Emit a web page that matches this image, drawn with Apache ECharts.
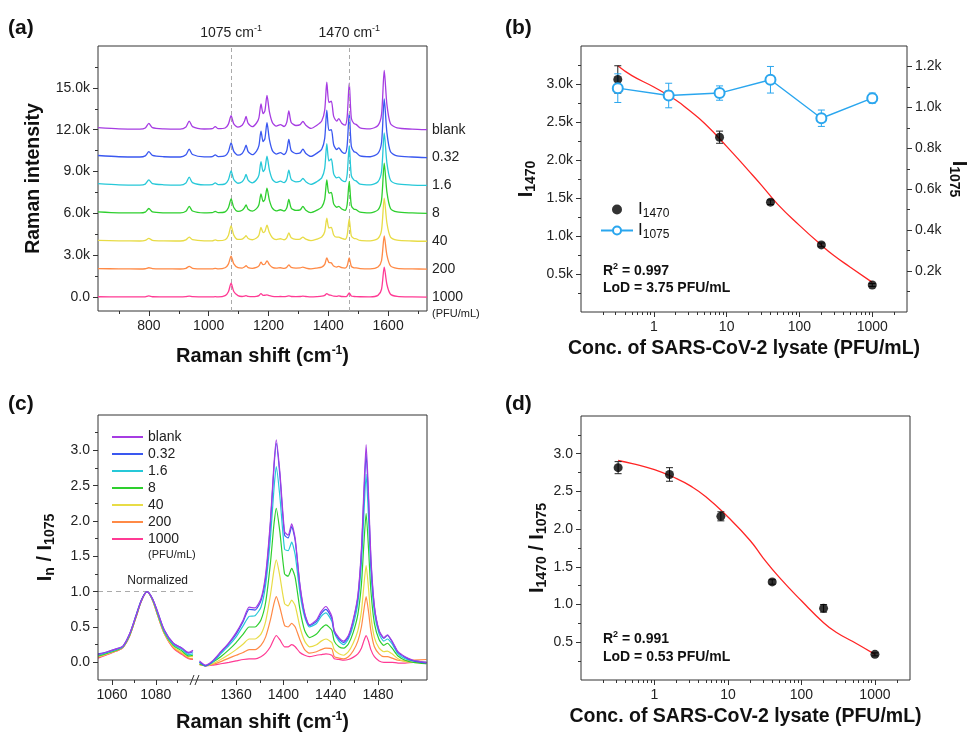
<!DOCTYPE html>
<html>
<head>
<meta charset="utf-8">
<script src="https://cdn.jsdelivr.net/npm/echarts@6/dist/echarts.min.js"></script>
<style>
  html, body { margin: 0; padding: 0; background: #fff; }
  #chart { width: 970px; height: 733px; }
</style>
</head>
<body>
<div id="chart"></div>
<script>
  const FONT = 'Arial, "Liberation Sans", sans-serif';

  // sample names + colours (same in a, c)
  const samples = ['blank', '0.32', '1.6', '8', '40', '200', '1000'];
  const lineColors = ['#a63ce2', '#3a58f0', '#26c8d8', '#2ecf2e', '#e8dc46', '#ff8a46', '#ff3a94'];
  // vertical stacking used in (a)
  const offsetsA = [12000, 10000, 8000, 6000, 4000, 2000, 0];

  // ---- (a) Raman spectra, intensity above each baseline ----
  const shiftA = [630, 700, 770, 788, 800, 812, 850, 905, 924, 935, 946, 985, 1012, 1022, 1032,
    1055, 1066, 1075, 1084, 1098, 1112, 1120, 1125, 1132, 1146, 1160, 1168, 1175, 1182, 1188,
    1195, 1203, 1213, 1226, 1240, 1252, 1261, 1268, 1276, 1292, 1306, 1315, 1325, 1342, 1362,
    1378, 1388, 1395, 1402, 1410, 1418, 1428, 1435, 1445, 1456, 1463, 1470, 1477, 1486, 1493,
    1506, 1540, 1566, 1578, 1587, 1596, 1608, 1630, 1680, 1730];
  const aBlank = [150, 60, 40, 120, 450, 150, 60, 40, 200, 620, 220, 50, 70, 220, 70,
    120, 400, 1000, 420, 180, 320, 620, 950, 450, 220, 480, 850, 1850, 1150, 1350,
    2450, 1300, 520, 260, 360, 230, 520, 1350, 520, 300, 360, 600, 320, 90, 320,
    620, 1400, 3400, 1950, 2050, 950, 620, 800, 460, 320, 900, 3350, 820, 430, 380,
    130, 60, 300, 1100, 4250, 1800, 420, 130, 40, 0];
  const a032 = [150, 60, 40, 120, 420, 150, 60, 40, 200, 600, 220, 50, 70, 200, 70,
    130, 420, 1060, 440, 180, 300, 600, 900, 430, 210, 470, 850, 1900, 1150, 1350,
    2500, 1300, 500, 250, 350, 220, 500, 1300, 500, 290, 340, 600, 300, 90, 320,
    600, 1380, 3400, 1950, 2000, 920, 580, 700, 420, 300, 860, 3200, 800, 420, 370,
    120, 60, 300, 1080, 4200, 1780, 410, 120, 40, 0];
  const a16 = [130, 50, 30, 100, 400, 130, 50, 30, 180, 600, 200, 40, 60, 180, 60,
    120, 410, 1050, 430, 160, 270, 520, 800, 380, 190, 410, 740, 1700, 1000, 1180,
    2100, 1120, 440, 220, 310, 200, 440, 1100, 440, 260, 300, 500, 270, 80, 280,
    540, 1220, 3000, 1750, 1900, 830, 540, 600, 380, 270, 780, 2850, 700, 380, 330,
    100, 50, 270, 1000, 3770, 1600, 370, 110, 30, 0];
  const a8 = [110, 40, 30, 90, 350, 110, 40, 30, 150, 500, 170, 40, 50, 150, 50,
    110, 400, 1030, 420, 140, 220, 420, 600, 300, 160, 340, 620, 1400, 850, 1000,
    1800, 950, 370, 180, 260, 170, 380, 1000, 380, 210, 250, 500, 230, 60, 230,
    450, 1000, 2400, 1450, 1500, 680, 440, 500, 310, 220, 630, 2300, 560, 300, 270,
    90, 40, 250, 950, 3600, 1520, 350, 100, 30, 0];
  const a40 = [70, 30, 20, 60, 200, 70, 30, 20, 100, 300, 110, 30, 30, 100, 40,
    110, 420, 1100, 440, 130, 150, 280, 400, 200, 110, 230, 430, 1000, 620, 700,
    1150, 620, 250, 120, 180, 110, 250, 600, 250, 140, 160, 300, 150, 40, 160,
    300, 680, 1650, 950, 1000, 450, 290, 300, 200, 140, 420, 1600, 380, 200, 180,
    60, 30, 200, 800, 3100, 1300, 300, 80, 20, 0];
  const a200 = [40, 20, 10, 30, 100, 40, 20, 10, 60, 200, 60, 20, 20, 60, 20,
    100, 360, 940, 380, 110, 80, 160, 250, 110, 60, 120, 230, 500, 320, 360,
    600, 330, 130, 70, 100, 60, 130, 300, 130, 80, 90, 150, 80, 20, 80,
    150, 340, 800, 480, 450, 220, 150, 200, 110, 80, 220, 800, 200, 100, 90,
    40, 20, 150, 620, 2380, 1000, 230, 60, 20, 0];
  const a1000 = [20, 10, 10, 20, 80, 20, 10, 10, 30, 60, 30, 10, 10, 30, 10,
    100, 380, 1000, 400, 100, 40, 70, 100, 50, 30, 50, 100, 250, 120, 130,
    150, 100, 50, 30, 40, 30, 50, 80, 40, 30, 40, 60, 40, 10, 30,
    60, 120, 250, 150, 120, 60, 50, 80, 40, 30, 80, 300, 70, 40, 30,
    20, 10, 120, 560, 2150, 900, 200, 50, 10, 0];
  const spectraA = [aBlank, a032, a16, a8, a40, a200, a1000];
  const markedShifts = [1075, 1470];

  // ---- (c) normalised spectra, left part (around 1075) ----
  const shiftCL = [1053.6, 1058, 1062, 1065, 1068, 1071, 1073.5, 1076, 1078.5, 1081, 1084, 1088, 1092, 1095, 1097];
  const clBlank = [0.11, 0.15, 0.19, 0.23, 0.40, 0.66, 0.88, 1.0, 0.90, 0.70, 0.45, 0.27, 0.20, 0.14, 0.17];
  const cl032 = [0.12, 0.15, 0.19, 0.23, 0.40, 0.67, 0.89, 1.0, 0.90, 0.70, 0.45, 0.27, 0.20, 0.13, 0.15];
  const cl16 = [0.10, 0.14, 0.18, 0.22, 0.39, 0.66, 0.88, 1.0, 0.89, 0.68, 0.43, 0.25, 0.18, 0.11, 0.12];
  const cl8 = [0.09, 0.13, 0.17, 0.22, 0.38, 0.65, 0.88, 1.0, 0.89, 0.67, 0.42, 0.24, 0.16, 0.09, 0.10];
  const cl40 = [0.08, 0.12, 0.17, 0.22, 0.38, 0.65, 0.88, 1.0, 0.88, 0.66, 0.41, 0.22, 0.14, 0.08, 0.08];
  const cl200 = [0.07, 0.12, 0.16, 0.21, 0.37, 0.64, 0.87, 1.0, 0.88, 0.65, 0.40, 0.21, 0.12, 0.06, 0.05];
  const cl1000 = [0.06, 0.11, 0.16, 0.21, 0.37, 0.64, 0.87, 1.0, 0.88, 0.65, 0.40, 0.20, 0.11, 0.05, 0.04];
  const spectraCL = [clBlank, cl032, cl16, cl8, cl40, cl200, cl1000];

  // ---- (c) right part (1330-1520) ----
  const shiftCR = [1329, 1334, 1340, 1347, 1354, 1360, 1366, 1371, 1376, 1381, 1385, 1389, 1392, 1394, 1397,
    1401, 1404, 1407, 1410, 1414, 1418, 1422, 1428, 1432, 1436, 1441, 1443, 1447, 1451, 1455,
    1459, 1463, 1466, 1468, 1470, 1472, 1474, 1477, 1481, 1485, 1488, 1492, 1497, 1503, 1510, 1521];
  const crBlank = [0.02, -0.04, 0.02, 0.15, 0.28, 0.42, 0.60, 0.78, 0.77, 0.90, 1.25, 2.0, 2.8, 3.15, 2.7,
    1.85, 1.80, 1.96, 1.75, 1.10, 0.70, 0.53, 0.60, 0.72, 0.79, 0.65, 0.45, 0.35, 0.30, 0.38,
    0.60, 0.95, 1.6, 2.4, 3.08, 2.4, 1.5, 0.80, 0.45, 0.35, 0.39, 0.30, 0.15, 0.08, 0.03, 0.0];
  const cr032 = [0.0, -0.05, 0.01, 0.14, 0.27, 0.40, 0.58, 0.75, 0.74, 0.87, 1.2, 1.95, 2.75, 3.1, 2.65,
    1.80, 1.76, 1.92, 1.72, 1.08, 0.68, 0.52, 0.58, 0.69, 0.75, 0.62, 0.44, 0.33, 0.28, 0.36,
    0.58, 0.92, 1.55, 2.3, 2.95, 2.3, 1.45, 0.78, 0.44, 0.34, 0.38, 0.29, 0.14, 0.07, 0.02, -0.01];
  const cr16 = [0.0, -0.05, 0.0, 0.12, 0.24, 0.36, 0.52, 0.65, 0.66, 0.78, 1.1, 1.75, 2.45, 2.77, 2.35,
    1.60, 1.58, 1.70, 1.52, 0.98, 0.64, 0.50, 0.55, 0.65, 0.70, 0.58, 0.42, 0.30, 0.25, 0.33,
    0.52, 0.84, 1.4, 2.05, 2.66, 2.05, 1.3, 0.70, 0.40, 0.30, 0.33, 0.26, 0.12, 0.05, 0.02, 0.0];
  const cr8 = [-0.02, -0.05, 0.0, 0.08, 0.18, 0.28, 0.40, 0.50, 0.50, 0.60, 0.85, 1.4, 1.95, 2.18, 1.85,
    1.25, 1.22, 1.33, 1.20, 0.75, 0.45, 0.35, 0.40, 0.48, 0.53, 0.45, 0.30, 0.22, 0.20, 0.26,
    0.42, 0.68, 1.1, 1.65, 2.11, 1.62, 1.02, 0.55, 0.32, 0.24, 0.27, 0.20, 0.09, 0.03, 0.0, -0.02];
  const cr40 = [-0.03, -0.05, -0.02, 0.04, 0.11, 0.18, 0.26, 0.33, 0.33, 0.40, 0.58, 0.95, 1.3, 1.45, 1.22,
    0.83, 0.80, 0.88, 0.80, 0.50, 0.30, 0.22, 0.25, 0.30, 0.33, 0.28, 0.18, 0.12, 0.10, 0.15,
    0.27, 0.45, 0.72, 1.07, 1.37, 1.05, 0.66, 0.35, 0.20, 0.15, 0.16, 0.12, 0.05, 0.01, 0.0, -0.02];
  const cr200 = [-0.03, -0.05, -0.03, 0.01, 0.06, 0.10, 0.14, 0.18, 0.18, 0.24, 0.36, 0.60, 0.83, 0.93, 0.78,
    0.52, 0.50, 0.55, 0.50, 0.32, 0.18, 0.13, 0.15, 0.18, 0.20, 0.19, 0.08, 0.06, 0.05, 0.08,
    0.16, 0.30, 0.50, 0.73, 0.93, 0.72, 0.45, 0.22, 0.12, 0.08, 0.08, 0.06, 0.03, 0.02, 0.03, 0.04];
  const cr1000 = [-0.03, -0.05, -0.04, -0.02, 0.0, 0.02, 0.04, 0.05, 0.05, 0.08, 0.13, 0.22, 0.33, 0.38, 0.32,
    0.22, 0.22, 0.25, 0.22, 0.14, 0.10, 0.08, 0.10, 0.11, 0.12, 0.10, 0.05, 0.04, 0.03, 0.04,
    0.07, 0.12, 0.20, 0.30, 0.38, 0.30, 0.18, 0.08, 0.02, 0.0, 0.0, 0.0, -0.01, -0.01, 0.0, 0.0];
  const spectraCR = [crBlank, cr032, cr16, cr8, cr40, cr200, cr1000];

  // ---- (b) / (d) calibration ----
  const conc = [0.32, 1.6, 8, 40, 200, 1000];
  const i1470 = [3060, 2855, 2300, 1445, 883, 355];
  const i1470Err = [180, 50, 80, 30, 25, 20];
  const i1075 = [1094, 1058, 1070, 1135, 947, 1045];
  const i1075Err = [70, 60, 35, 65, 40, 25];
  const fitX = [0.32, 0.5, 1, 2, 3, 5, 10, 20, 30, 50, 100, 200, 300, 500, 1000];
  const fitB = [3240, 3110, 2960, 2790, 2660, 2480, 2180, 1860, 1670, 1420, 1140, 880, 740, 590, 390];
  const ratio = [2.815, 2.725, 2.17, 1.30, 0.95, 0.34];
  const ratioErr = [0.08, 0.09, 0.06, 0.03, 0.05, 0.02];
  const fitD = [2.91, 2.87, 2.79, 2.67, 2.58, 2.43, 2.16, 1.85, 1.62, 1.36, 1.05, 0.76, 0.63, 0.51, 0.34];

  // tick positions
  const aXLabels = [800, 1000, 1200, 1400, 1600];
  const aXMinor = [700, 900, 1100, 1300, 1500, 1700];
  const aYLabels = [0, 3000, 6000, 9000, 12000, 15000];
  const aYMinor = [1500, 4500, 7500, 10500, 13500, 16500];
  const bYLabels = [500, 1000, 1500, 2000, 2500, 3000];
  const bYMinor = [250, 750, 1250, 1750, 2250, 2750, 3250];
  const bY2Labels = [200, 400, 600, 800, 1000, 1200];
  const bY2Minor = [100, 300, 500, 700, 900, 1100];
  const clXLabels = [1060, 1080];
  const clXMinor = [1070, 1090];
  const crXLabels = [1360, 1400, 1440, 1480];
  const crXMinor = [1340, 1380, 1420, 1460, 1500];
  const cYLabels = [0, 0.5, 1.0, 1.5, 2.0, 2.5, 3.0];
  const cYMinor = [0.25, 0.75, 1.25, 1.75, 2.25, 2.75, 3.25];
  const dYLabels = [0.5, 1.0, 1.5, 2.0, 2.5, 3.0];
  const dYMinor = [0.25, 0.75, 1.25, 1.75, 2.25, 2.75, 3.25];
  const logMinor = [0.2, 0.3, 0.4, 0.5, 0.6, 0.7, 0.8, 0.9, 2, 3, 4, 5, 6, 7, 8, 9,
    20, 30, 40, 50, 60, 70, 80, 90, 200, 300, 400, 500, 600, 700, 800, 900, 2000];

  // 画布上的各个面板位置
  const GA = { left: 98, top: 46, width: 329, height: 265 };
  const GB = { left: 581, top: 46, width: 329, height: 266 };
  const GCL = { left: 98, top: 415, width: 95, height: 265 };
  const GCR = { left: 199, top: 415, width: 228, height: 265 };
  const GD = { left: 581, top: 416, width: 329, height: 264 };

  const chart = echarts.init(document.getElementById('chart'));

  const kFmt = v => v === 0 ? '0.0' : (v / 1000).toFixed(1) + 'k';
  const oneDec = v => v.toFixed(1);
  const plain = v => String(v);
  const titleStyle = { fontSize: 19.5, fontWeight: 'bold', color: '#111', fontFamily: FONT };
  const subRich = {
    i: { fontSize: 20, fontWeight: 'bold', color: '#111', fontFamily: FONT },
    s: { fontSize: 14, fontWeight: 'bold', color: '#111', fontFamily: FONT, padding: [10, 0, 0, 0] },
    n: { fontSize: 20, fontWeight: 'bold', color: '#111', fontFamily: FONT },
    p: { fontSize: 12, fontWeight: 'bold', color: '#111', fontFamily: FONT, padding: [0, 0, 10, 0] }
  };

  function mainAxis(gridIndex, position, min, max, labels, fmt, extra) {
    return Object.assign({
      gridIndex: gridIndex, position: position, type: 'value', min: min, max: max,
      axisLine: { show: false, onZero: false },
      axisTick: { show: true, inside: false, length: 5, customValues: labels, lineStyle: { color: '#333' } },
      axisLabel: { show: true, customValues: labels, formatter: fmt, fontSize: 14, color: '#222', fontFamily: FONT, margin: 8 },
      splitLine: { show: false }
    }, extra || {});
  }
  function minorAxis(gridIndex, position, min, max, ticks) {
    return {
      gridIndex: gridIndex, position: position, type: 'value', min: min, max: max,
      axisLine: { show: false, onZero: false },
      axisTick: { show: true, inside: false, length: 3, customValues: ticks, lineStyle: { color: '#333' } },
      axisLabel: { show: false },
      splitLine: { show: false }
    };
  }
  function logAxis(gridIndex, extra) {
    return Object.assign({
      gridIndex: gridIndex, position: 'bottom', type: 'log', logBase: 10, min: 0.1, max: 3000,
      axisLine: { show: false, onZero: false },
      axisTick: { show: true, inside: false, length: 5, lineStyle: { color: '#333' } },
      axisLabel: { showMinLabel: false, showMaxLabel: false, formatter: v => String(Math.round(v)),
        fontSize: 14, color: '#222', fontFamily: FONT, margin: 8 },
      splitLine: { show: false },
      name: 'Conc. of SARS-CoV-2 lysate (PFU/mL)', nameLocation: 'middle', nameGap: 27,
      nameTextStyle: { fontSize: 19.5, fontWeight: 'bold', color: '#111', fontFamily: FONT }
    }, extra || {});
  }

  function errorBars(xs, ys, es, color, xAxisIndex, yAxisIndex) {
    return {
      type: 'custom', xAxisIndex: xAxisIndex, yAxisIndex: yAxisIndex, z: 3, silent: true,
      encode: { x: 0, y: [1, 2] },
      data: xs.map((x, i) => [x, ys[i] - es[i], ys[i] + es[i]]),
      renderItem: function (params, api) {
        const lo = api.coord([api.value(0), api.value(1)]);
        const hi = api.coord([api.value(0), api.value(2)]);
        const w = 3.5;
        const st = { stroke: color, lineWidth: 1 };
        return {
          type: 'group', children: [
            { type: 'line', shape: { x1: lo[0], y1: lo[1], x2: hi[0], y2: hi[1] }, style: st },
            { type: 'line', shape: { x1: lo[0] - w, y1: lo[1], x2: lo[0] + w, y2: lo[1] }, style: st },
            { type: 'line', shape: { x1: hi[0] - w, y1: hi[1], x2: hi[0] + w, y2: hi[1] }, style: st }
          ]
        };
      }
    };
  }

  const series = [];

  // (a)
  samples.forEach((name, k) => {
    const s = {
      name: name, type: 'line', xAxisIndex: 0, yAxisIndex: 0,
      data: shiftA.map((x, i) => [x, spectraA[k][i] + offsetsA[k]]),
      symbol: 'none', smooth: 0.25, z: 3 + k,
      lineStyle: { color: lineColors[k], width: 1.3 },
      itemStyle: { color: lineColors[k] },
      endLabel: { show: true, formatter: p => p.seriesName, color: '#222', fontSize: 14, fontFamily: FONT, distance: 5 }
    };
    if (k === 0) {
      s.markLine = {
        silent: true, symbol: 'none', animation: false,
        lineStyle: { color: '#aaa', type: [4, 3], width: 1 },
        label: {
          show: true, position: 'end', distance: 4,
          formatter: p => '{t|' + p.value + ' cm}{u|-1}',
          rich: {
            t: { fontSize: 14, color: '#222', fontFamily: FONT },
            u: { fontSize: 9, color: '#222', fontFamily: FONT, padding: [0, 0, 9, 0] }
          }
        },
        data: markedShifts.map(v => ({ xAxis: v }))
      };
    }
    series.push(s);
  });

  // (c)
  samples.forEach((name, k) => {
    const left = {
      name: name, type: 'line', xAxisIndex: 4, yAxisIndex: 6,
      data: shiftCL.map((x, i) => [x, spectraCL[k][i]]),
      symbol: 'none', smooth: 0.3, z: 10 - k,
      lineStyle: { color: lineColors[k], width: 1.2 },
      itemStyle: { color: lineColors[k] }
    };
    if (k === 0) {
      left.markLine = {
        silent: true, symbol: 'none', animation: false,
        lineStyle: { color: '#aaa', type: [5, 4], width: 1 },
        label: { show: true, position: 'insideEndTop', formatter: 'Normalized', fontSize: 12, color: '#222', fontFamily: FONT },
        data: [{ yAxis: 1 }]
      };
    }
    series.push(left);
    series.push({
      name: name, type: 'line', xAxisIndex: 6, yAxisIndex: 8,
      data: shiftCR.map((x, i) => [x, spectraCR[k][i]]),
      symbol: 'none', smooth: 0.2, z: 10 - k,
      lineStyle: { color: lineColors[k], width: 1.2 },
      itemStyle: { color: lineColors[k] }
    });
  });

  // (b)
  series.push({
    type: 'line', xAxisIndex: 2, yAxisIndex: 2, silent: true, z: 2,
    data: fitX.map((x, i) => [x, fitB[i]]), smooth: true, symbol: 'none',
    lineStyle: { color: '#ff2424', width: 1.3 }
  });
  series.push(errorBars(conc, i1470, i1470Err, '#222', 2, 2));
  series.push({
    name: 'I1470', type: 'scatter', xAxisIndex: 2, yAxisIndex: 2, z: 6,
    data: conc.map((x, i) => [x, i1470[i]]), symbolSize: 9,
    itemStyle: { color: '#000' }
  });
  series.push(errorBars(conc, i1075, i1075Err, '#2aa6ee', 2, 4));
  series.push({
    name: 'I1075', type: 'line', xAxisIndex: 2, yAxisIndex: 4, z: 7,
    data: conc.map((x, i) => [x, i1075[i]]),
    symbol: 'emptyCircle', symbolSize: 10, showSymbol: true,
    lineStyle: { color: '#2aa6ee', width: 1.4 },
    itemStyle: { color: '#2aa6ee', borderWidth: 1.5 }
  });

  // (d)
  series.push({
    type: 'line', xAxisIndex: 8, yAxisIndex: 9, silent: true, z: 2,
    data: fitX.map((x, i) => [x, fitD[i]]), smooth: true, symbol: 'none',
    lineStyle: { color: '#ff2424', width: 1.3 }
  });
  series.push(errorBars(conc, ratio, ratioErr, '#222', 8, 9));
  series.push({
    type: 'scatter', xAxisIndex: 8, yAxisIndex: 9, z: 6,
    data: conc.map((x, i) => [x, ratio[i]]), symbolSize: 9,
    itemStyle: { color: '#000' }
  });

  const gridStyle = { show: true, borderColor: '#333', borderWidth: 1, backgroundColor: 'transparent' };
  const lg = Math.log10;

  const xAxes = [
    mainAxis(0, 'bottom', 630, 1730, aXLabels, plain, {
      name: '{n|Raman shift (cm}{p|-1}{n|)}', nameLocation: 'middle', nameGap: 34,
      nameTextStyle: { rich: subRich }
    }),
    minorAxis(0, 'bottom', 630, 1730, aXMinor),
    logAxis(1),
    minorAxis(1, 'bottom', -1, lg(3000), logMinor.map(v => lg(v))),
    mainAxis(2, 'bottom', 1053.6, 1097, clXLabels, plain),
    minorAxis(2, 'bottom', 1053.6, 1097, clXMinor),
    mainAxis(3, 'bottom', 1328.6, 1521.5, crXLabels, plain),
    minorAxis(3, 'bottom', 1328.6, 1521.5, crXMinor),
    logAxis(4),
    minorAxis(4, 'bottom', -1, lg(3000), logMinor.map(v => lg(v)))
  ];

  const yAxes = [
    mainAxis(0, 'left', -1000, 18000, aYLabels, kFmt, {
      name: 'Raman intensity', nameLocation: 'middle', nameGap: 54, nameTextStyle: titleStyle
    }),
    minorAxis(0, 'left', -1000, 18000, aYMinor),
    mainAxis(1, 'left', 0, 3500, bYLabels, kFmt, {
      name: '{i|I}{s|1470}', nameLocation: 'middle', nameGap: 43, nameTextStyle: { rich: subRich }
    }),
    minorAxis(1, 'left', 0, 3500, bYMinor),
    mainAxis(1, 'right', 0, 1300, bY2Labels, kFmt, {
      name: '{i|I}{s|1075}', nameLocation: 'middle', nameGap: 40, nameRotate: -90,
      nameTextStyle: { rich: subRich }
    }),
    minorAxis(1, 'right', 0, 1300, bY2Minor),
    mainAxis(2, 'left', -0.25, 3.5, cYLabels, oneDec, {
      name: '{i|I}{s|n}{i| / I}{s|1075}', nameLocation: 'middle', nameGap: 41, nameTextStyle: { rich: subRich }
    }),
    minorAxis(2, 'left', -0.25, 3.5, cYMinor),
    { gridIndex: 3, type: 'value', min: -0.25, max: 3.5, show: false },
    mainAxis(4, 'left', 0, 3.5, dYLabels, oneDec, {
      name: '{i|I}{s|1470}{i| / I}{s|1075}', nameLocation: 'middle', nameGap: 31, nameTextStyle: { rich: subRich }
    }),
    minorAxis(4, 'left', 0, 3.5, dYMinor)
  ];

  const bold14 = { fontSize: 14, fontWeight: 'bold', fill: '#111', fontFamily: FONT };
  const sup9 = { fontSize: 9, fontWeight: 'bold', fill: '#111', fontFamily: FONT, padding: [0, 0, 8, 0] };
  function panelLabel(t, x, y) {
    return { type: 'text', x: x, y: y, style: { text: t, font: 'bold 21px ' + FONT, fill: '#111', verticalAlign: 'middle' } };
  }
  function richText(t, x, y) {
    return { type: 'text', x: x, y: y, z: 20, style: { text: t, rich: { b: bold14, p: sup9 }, verticalAlign: 'middle' } };
  }
  const frameC = { x: GCL.left, y: GCL.top, w: GCR.left + GCR.width - GCL.left, h: GCL.height };
  const breakX = (GCL.left + GCL.width + GCR.left) / 2;
  const bottomC = GCL.top + GCL.height;

  const graphic = [
    panelLabel('(a)', 8, 28), panelLabel('(b)', 505, 28),
    panelLabel('(c)', 8, 404), panelLabel('(d)', 505, 404),
    { type: 'text', x: 432, y: 314, style: { text: '(PFU/mL)', font: '11px ' + FONT, fill: '#222', verticalAlign: 'middle' } },
    { type: 'text', x: 148, y: 555, style: { text: '(PFU/mL)', font: '11px ' + FONT, fill: '#222', verticalAlign: 'middle' } },
    richText('{b|R}{p|2}{b| = 0.997}', 603, 271),
    richText('{b|LoD = 3.75 PFU/mL}', 603, 288),
    richText('{b|R}{p|2}{b| = 0.991}', 603, 639),
    richText('{b|LoD = 0.53 PFU/mL}', 603, 657),
    // (c) axis title, centred under both halves of the broken axis
    { type: 'text', x: frameC.x + frameC.w / 2, y: 722,
      style: { text: '{n|Raman shift (cm}{p|-1}{n|)}', rich: {
        n: { fontSize: 20, fontWeight: 'bold', fill: '#111', fontFamily: FONT },
        p: { fontSize: 12, fontWeight: 'bold', fill: '#111', fontFamily: FONT, padding: [0, 0, 10, 0] }
      }, align: 'center', verticalAlign: 'middle' } },
    { type: 'rect', z: 30, shape: { x: frameC.x, y: frameC.y, width: frameC.w, height: frameC.h },
      style: { fill: 'none', stroke: '#333', lineWidth: 1 } },
    { type: 'line', z: 31, shape: { x1: breakX - 6, y1: bottomC + 5, x2: breakX - 2, y2: bottomC - 5 }, style: { stroke: '#333', lineWidth: 1 } },
    { type: 'line', z: 31, shape: { x1: breakX - 1, y1: bottomC + 5, x2: breakX + 3, y2: bottomC - 5 }, style: { stroke: '#333', lineWidth: 1 } }
  ];

  chart.setOption({
    animation: false,
    textStyle: { fontFamily: FONT },
    grid: [
      Object.assign({}, GA, gridStyle),
      Object.assign({}, GB, gridStyle),
      Object.assign({}, GCL, { show: false }),
      Object.assign({}, GCR, { show: false }),
      Object.assign({}, GD, gridStyle)
    ],
    legend: [
      {
        data: samples.map(n => ({ name: n, icon: 'rect' })), orient: 'vertical', left: 112, top: 430,
        padding: 0, itemWidth: 31, itemHeight: 2, itemGap: 3, selectedMode: false,
        textStyle: { fontSize: 14, color: '#222', fontFamily: FONT }
      },
      {
        data: ['I1470', 'I1075'], orient: 'vertical', left: 600, top: 201,
        padding: 0, itemWidth: 32, itemHeight: 10, itemGap: 2, selectedMode: false,
        formatter: n => '{i|I}{s|' + n.slice(1) + '}',
        textStyle: {
          rich: {
            i: { fontSize: 17, color: '#111', fontFamily: FONT },
            s: { fontSize: 12, color: '#111', fontFamily: FONT, padding: [9, 0, 0, 0] }
          }
        }
      }
    ],
    xAxis: xAxes,
    yAxis: yAxes,
    series: series,
    graphic: graphic
  });

  window.onresize = function () {
    chart.resize();
  };
</script>
</body>
</html>
